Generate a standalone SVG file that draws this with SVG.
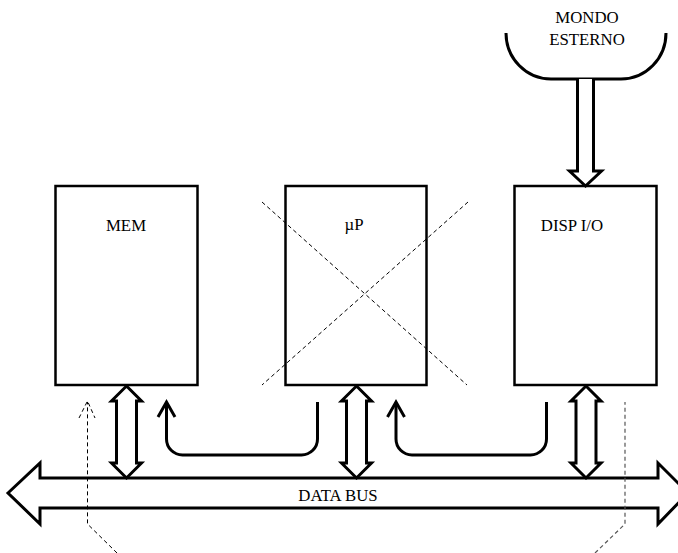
<svg xmlns="http://www.w3.org/2000/svg" width="678" height="553" viewBox="0 0 678 553">
  <style>
    .box { fill: #fff; stroke: #000; stroke-width: 2.5; }
    .thick { fill: #fff; stroke: #000; stroke-width: 3; stroke-linejoin: miter; }
    .line { fill: none; stroke: #000; stroke-width: 3; }
    .dash { fill: none; stroke: #000; stroke-width: 1; stroke-dasharray: 4 3; }
    .dashg { fill: none; stroke: #555; stroke-width: 1.2; stroke-dasharray: 4 3; }
    .lbl { font-family: "Liberation Serif", "Times New Roman", serif; font-size: 16.8px; fill: #000; text-anchor: middle; }
  </style>
  <defs>
    <!-- double-headed hollow vertical arrow, centred on x=0, from y=0 to y=92 -->
    <path id="dbl" d="M0,0 L15,15 L10,15 L10,77 L15,77 L0,92 L-15,77 L-10,77 L-10,15 L-15,15 Z"/>
  </defs>

  <!-- external world -->
  <g id="mondo-esterno">
    <path class="line" d="M506,33 A45,46 0 0 0 551,79 L621,79 A45,46 0 0 0 666,33"/>
    <text class="lbl" x="587" y="23">MONDO</text>
    <text class="lbl" x="587" y="45">ESTERNO</text>
  </g>

  <g id="mem">
    <rect class="box" x="55.5" y="186" width="142" height="199"/>
    <text class="lbl" x="126" y="231">MEM</text>
  </g>

  <g id="up">
    <rect class="box" x="285.5" y="186" width="141" height="199"/>
    <text class="lbl" x="354" y="230">µP</text>
    <line class="dash" x1="262" y1="202" x2="467" y2="385"/>
    <line class="dash" x1="468" y1="202" x2="262" y2="385"/>
  </g>

  <g id="disp-io">
    <rect class="box" x="514.5" y="186" width="142" height="199"/>
    <text class="lbl" x="572" y="231">DISP I/O</text>
  </g>

  <g id="data-bus">
    <path class="thick" d="M8,493 L40,463 L40,478 L658,478 L658,463 L688,493 L658,524 L658,508 L40,508 L40,524 Z"/>
    <text class="lbl" x="338" y="501">DATA BUS</text>
  </g>

  <g id="connectors">
    <!-- bus links -->
    <use href="#dbl" class="thick" x="126.5" y="386"/>
    <use href="#dbl" class="thick" x="356.5" y="386"/>
    <use href="#dbl" class="thick" x="586" y="386"/>

    <!-- input from outside into DISP I/O -->
    <path class="thick" d="M577.5,79 L577.5,171 L569.5,171 L585.5,186 L601.5,171 L593.5,171 L593.5,79"/>

    <!-- control lines from µP and DISP I/O -->
    <path class="line" d="M317.5,402 L317.5,439 A16,16 0 0 1 301.5,455 L182.5,455 A16,16 0 0 1 166.5,439 L166.5,403"/>
    <path class="line" d="M158,417 L166.5,402 L175,417"/>
    <path class="line" d="M546.5,402 L546.5,439 A16,16 0 0 1 530.5,455 L412,455 A16,16 0 0 1 396,439 L396,403"/>
    <path class="line" d="M387.5,417 L396,402 L404.5,417"/>

    <!-- dashed lines -->
    <path class="dash" d="M117,553 L87.5,524 L87.5,402"/>
    <path class="dash" d="M79,418 L87.5,401 L95,418"/>
    <path class="dashg" d="M595,553 L625,524 L625,402"/>
  </g>
</svg>
